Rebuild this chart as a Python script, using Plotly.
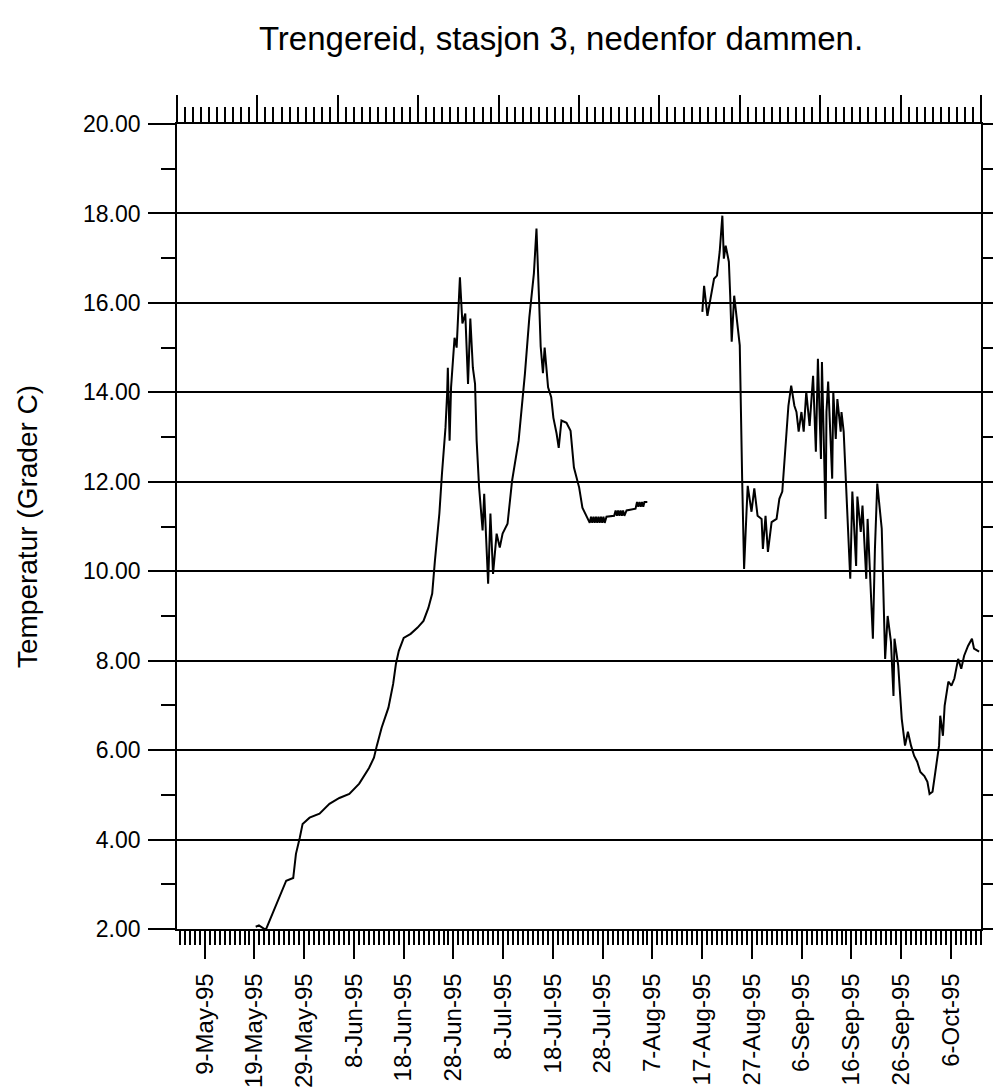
import numpy as np
import pandas as pd
import plotly.graph_objects as go

# ---------------- data (day of year 1995, temperature in deg C) ----------------
DOY_PART1 = [139.25, 139.9, 141.27, 143.23, 145.38, 146.79, 147.34, 148.11, 148.68, 150.08,
             152.08, 154.07, 156.07, 158.07, 160.06, 162.03, 163.02, 163.60, 164.56, 165.93,
             166.88, 167.44, 168.02, 169.00, 170.40, 171.79, 172.98, 173.96, 174.73, 175.27,
             176.17, 176.69, 177.40, 177.73, 177.87, 178.23, 178.52, 179.22, 179.64, 180.30,
             180.80, 181.38, 181.93, 182.39, 182.90, 183.34, 183.66, 184.16, 184.86, 185.18,
             185.97, 186.43, 186.96, 187.68, 188.31, 188.88, 189.87, 190.78, 192.10, 193.37,
             194.25, 195.17, 195.52, 195.69, 196.20, 196.53, 196.99, 197.33, 198.02, 198.65,
             199.09, 199.73, 200.16, 200.71, 201.72, 202.54, 203.22, 204.27, 204.92, 205.94,
             206.40, 206.65, 206.90, 207.15, 207.40, 207.65, 207.90, 208.15, 208.40, 208.65,
             208.90, 209.15, 209.40, 209.76, 211.30, 211.60, 211.85, 212.10, 212.35, 212.60,
             212.85, 213.10, 213.35, 213.80, 215.60, 215.90, 216.15, 216.40, 216.65, 216.90,
             217.15, 217.40, 217.97]
TEMP_PART1 = [2.05, 2.08, 1.98, 2.52, 3.08, 3.14, 3.68, 4.04, 4.35, 4.49,
              4.58, 4.80, 4.93, 5.02, 5.25, 5.60, 5.83, 6.10, 6.50, 6.95,
              7.48, 7.93, 8.22, 8.51, 8.60, 8.74, 8.89, 9.18, 9.50, 10.23,
              11.29, 12.18, 13.21, 13.97, 14.55, 12.92, 14.11, 15.22, 15.00, 16.57,
              15.54, 15.76, 14.19, 15.65, 14.55, 14.19, 12.92, 11.87, 10.91, 11.73,
              9.72, 11.29, 9.94, 10.84, 10.53, 10.84, 11.06, 12.02, 12.92, 14.42,
              15.67, 16.66, 17.20, 17.66, 16.10, 15.03, 14.43, 15.00, 14.11, 13.89,
              13.43, 13.08, 12.76, 13.37, 13.32, 13.14, 12.32, 11.87, 11.42, 11.20,
              11.08, 11.22, 11.08, 11.22, 11.08, 11.22, 11.08, 11.22, 11.08, 11.22,
              11.08, 11.22, 11.08, 11.22, 11.24, 11.36, 11.24, 11.36, 11.24, 11.36,
              11.24, 11.36, 11.24, 11.36, 11.40, 11.55, 11.44, 11.55, 11.44, 11.55,
              11.44, 11.55, 11.55]

DOY_PART2 = [229.03, 229.38, 230.05, 230.62, 231.38, 231.97, 232.52, 233.05, 233.35, 233.72,
             234.36, 234.63, 234.93, 235.43, 235.88, 236.55, 237.03, 237.42, 237.91, 238.15,
             238.91, 239.47, 240.13, 240.94, 241.20, 241.73, 242.21, 242.95, 243.95, 244.51,
             245.10, 245.80, 246.33, 246.89, 247.53, 247.95, 248.39, 248.95, 249.40, 249.92,
             250.59, 251.29, 251.85, 252.26, 252.87, 253.07, 253.81, 253.98, 254.32, 255.13,
             255.35, 255.85, 256.17, 256.84, 257.00, 257.44, 257.97, 258.76, 259.18, 259.94,
             260.19, 260.87, 261.22, 261.98, 262.25, 263.31, 263.72, 264.19, 265.09, 265.77,
             266.28, 266.94, 267.45, 267.65, 268.40, 269.11, 269.77, 270.35, 270.98, 271.61,
             272.22, 272.85, 273.66, 274.27, 274.70, 275.30, 275.86, 276.61, 276.85, 277.39,
             277.73, 278.48, 279.10, 279.69, 280.45, 281.07, 281.65, 282.43, 283.22, 283.64,
             284.66]
TEMP_PART2 = [15.80, 16.38, 15.71, 16.03, 16.54, 16.61, 17.15, 17.95, 16.99, 17.28,
              16.92, 16.16, 15.13, 16.16, 15.65, 15.05, 12.07, 10.05, 11.33, 11.91,
              11.33, 11.85, 11.24, 11.17, 10.50, 11.24, 10.43, 11.10, 11.17, 11.62,
              11.78, 12.96, 13.70, 14.15, 13.70, 13.56, 13.12, 13.56, 13.12, 14.01,
              13.25, 14.37, 12.67, 14.75, 12.51, 14.68, 11.17, 13.56, 14.24, 12.07,
              14.01, 12.96, 13.85, 13.12, 13.56, 13.12, 11.85, 9.83, 11.78, 10.12,
              11.67, 10.88, 11.47, 9.83, 11.17, 8.49, 10.50, 11.96, 10.95, 8.04,
              9.00, 8.42, 7.21, 8.49, 7.89, 6.70, 6.10, 6.41, 6.10, 5.87,
              5.74, 5.51, 5.42, 5.29, 5.02, 5.07, 5.51, 6.10, 6.77, 6.32,
              6.99, 7.53, 7.44, 7.60, 8.04, 7.82, 8.11, 8.33, 8.49, 8.27,
              8.20]

TICK_DATES = ["1995-05-09", "1995-05-19", "1995-05-29", "1995-06-08", "1995-06-18",
              "1995-06-28", "1995-07-08", "1995-07-18", "1995-07-28", "1995-08-07",
              "1995-08-17", "1995-08-27", "1995-09-06", "1995-09-16", "1995-09-26",
              "1995-10-06"]
TICK_LABELS = ["9-May-95", "19-May-95", "29-May-95", "8-Jun-95", "18-Jun-95",
               "28-Jun-95", "8-Jul-95", "18-Jul-95", "28-Jul-95", "7-Aug-95",
               "17-Aug-95", "27-Aug-95", "6-Sep-95", "16-Sep-95", "26-Sep-95",
               "6-Oct-95"]

TITLE = "Trengereid, stasjon 3, nedenfor dammen."
Y_TITLE = "Temperatur (Grader C)"

# ---------------- build ----------------
base = pd.Timestamp("1995-01-01")


def to_dates(doy):
    return base + pd.to_timedelta(np.asarray(doy, dtype=float) - 1.0, unit="D")


x_all = list(to_dates(DOY_PART1)) + [None] + list(to_dates(DOY_PART2))
y_all = TEMP_PART1 + [None] + TEMP_PART2

FONT = "Liberation Sans, Arial, sans-serif"
LW = 1.6

fig = go.Figure()
fig.add_trace(go.Scatter(x=x_all, y=y_all, mode="lines",
                         line=dict(color="black", width=2.0),
                         connectgaps=False, showlegend=False, hoverinfo="x+y"))
# helper trace so that the top (tick-only) axis is drawn
fig.add_trace(go.Scatter(x=[0, 10], y=[2, 2], xaxis="x2", yaxis="y", mode="lines",
                         line=dict(width=0, color="rgba(0,0,0,0)"),
                         showlegend=False, hoverinfo="skip"))

fig.update_layout(
    width=1001, height=1092,
    margin=dict(l=169, r=28, t=116, b=171, autoexpand=False),
    paper_bgcolor="white", plot_bgcolor="white",
    font=dict(family=FONT, color="black"),
    title=dict(text=TITLE, font=dict(size=33, family=FONT, color="black"),
               xref="container", x=553 / 1001, xanchor="center",
               yref="container", y=1 - 30 / 1092, yanchor="middle",
               automargin=False),
    xaxis=dict(
        type="date", automargin=False,
        range=["1995-05-03 10:20", "1995-10-12 01:00"],
        tickmode="array", tickvals=TICK_DATES, ticktext=TICK_LABELS,
        tickangle=-90, tickfont=dict(size=24, family=FONT, color="black"),
        ticks="outside", ticklen=28, tickwidth=LW, tickcolor="black",
        ticklabelstandoff=5,
        showline=True, linecolor="black", linewidth=LW, mirror=False,
        showgrid=False, zeroline=False,
        minor=dict(tick0="1995-05-09", dtick=86400000, ticks="outside",
                   ticklen=14, tickwidth=LW, tickcolor="black", showgrid=False),
    ),
    xaxis2=dict(
        overlaying="x", side="top", anchor="y", automargin=False,
        range=[0, 10], tickmode="linear", tick0=0, dtick=1,
        showticklabels=False,
        ticks="outside", ticklen=27, tickwidth=LW, tickcolor="black",
        showline=True, linecolor="black", linewidth=LW,
        showgrid=False, zeroline=False,
        minor=dict(dtick=0.1, tick0=0, ticks="outside", ticklen=15,
                   tickwidth=LW, tickcolor="black", showgrid=False),
    ),
    yaxis=dict(
        automargin=False,
        range=[2, 20], tickmode="linear", tick0=2, dtick=2, tickformat=".2f",
        tickfont=dict(size=23, family=FONT, color="black"),
        ticks="outside", ticklen=27, tickwidth=LW, tickcolor="black",
        ticklabelstandoff=3,
        showline=True, linecolor="black", linewidth=LW, mirror="ticks",
        showgrid=True, gridcolor="black", gridwidth=LW, zeroline=False,
        minor=dict(dtick=1, tick0=2, ticks="outside", ticklen=14,
                   tickwidth=LW, tickcolor="black", showgrid=False),
        title=dict(text=Y_TITLE, font=dict(size=28, family=FONT, color="black"),
                   standoff=37),
    ),
)

fig.write_html("out.html")
